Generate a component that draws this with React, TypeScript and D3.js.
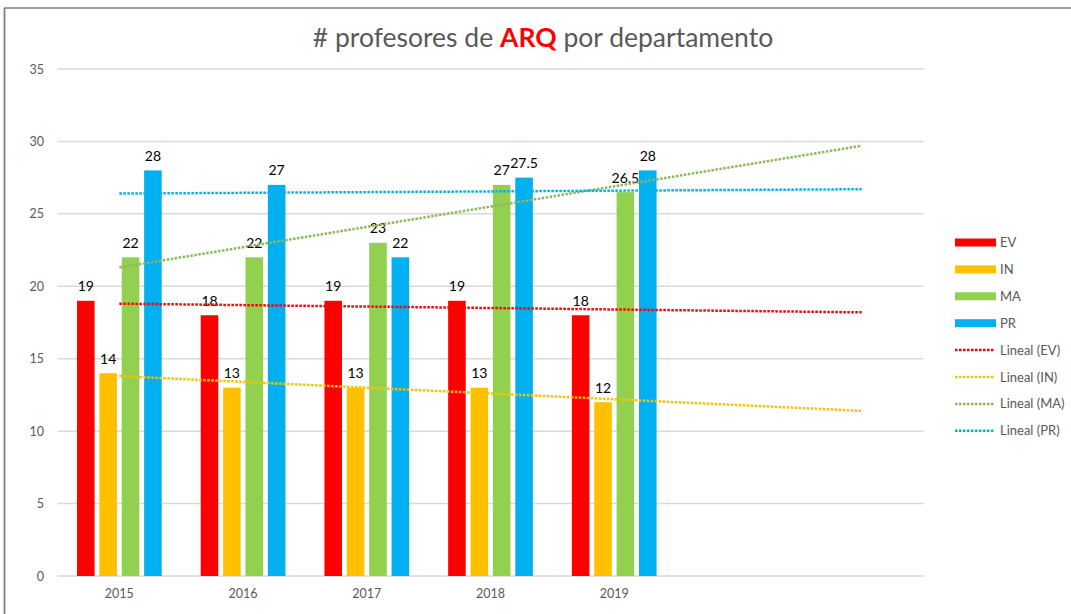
import * as d3 from "d3";

const years = ["2015", "2016", "2017", "2018", "2019"];
// two empty slots on the right where Excel extends the trendlines (forecast)
const slots = [...years, "f1", "f2"];
const seriesNames = ["EV", "IN", "MA", "PR"];
const EV = [19, 18, 19, 19, 18];
const IN = [14, 13, 13, 13, 12];
const MA = [22, 22, 23, 27, 26.5];
const PR = [28, 27, 22, 27.5, 28];
const yTicks = [0, 5, 10, 15, 20, 25, 30, 35];

const colors = ["#FF0000", "#FFC000", "#92D050", "#00B0F0"];
const trendColors = ["#FF0000", "#FFC000", "#8DB85A", "#00B0F0"];

const font = "Lato, 'Open Sans', sans-serif";

// least squares fit over x = 1..n
function linearFit(vals: number[]) {
    const xs = vals.map((_, i) => i + 1);
    const mx = d3.mean(xs) as number;
    const my = d3.mean(vals) as number;
    const slope = d3.sum(xs, (x, i) => (x - mx) * (vals[i] - my)) / d3.sum(xs, x => (x - mx) ** 2);
    return (x: number) => my + slope * (x - mx);
}

export default function App() {
    const data = [EV, IN, MA, PR];
    const left = 57.5, right = 923.5, top = 69, bottom = 576;

    const x = d3.scaleBand().domain(slots).range([left, right]);
    const inner = d3.scaleBand().domain(seriesNames).range([-42.35, 42.35]).paddingInner(0.215);
    const y = d3.scaleLinear().domain([0, 35]).range([bottom, top]);
    const cx = (s: string) => (x(s) as number) + x.bandwidth() / 2;

    const legendRows = [
        ...seriesNames.map((n, i) => ({ label: n, color: colors[i], dotted: false })),
        ...seriesNames.map((n, i) => ({ label: "Lineal (" + n + ")", color: trendColors[i], dotted: true })),
    ];

    return (
        <svg width={1071} height={614} style={{ position: "absolute", left: 0, top: 0, background: "#fff" }}
            fontFamily={font}>
            <rect x={0} y={0} width={1071} height={614} fill="#fff" />
            <line x1={4} x2={1071} y1={8} y2={8} stroke="#404040" strokeWidth={1} />
            <line x1={4.5} x2={4.5} y1={8} y2={614} stroke="#7f7f7f" strokeWidth={1.8} />

            <text x={543} y={47} textAnchor="middle" fontSize={26.5} fill="#595959">
                # profesores de <tspan fill="#FF0000" fontWeight="bold">ARQ</tspan> por departamento
            </text>

            {yTicks.map(t => (
                <g key={t}>
                    <line x1={left} x2={right} y1={y(t)} y2={y(t)} stroke="#D9D9D9" strokeWidth={1.5} />
                    <text x={44} y={y(t) + 4.5} textAnchor="end" fontSize={12.5} fill="#595959">{t}</text>
                </g>
            ))}

            {years.map(yr => (
                <text key={yr} x={cx(yr)} y={598} textAnchor="middle" fontSize={12.5} fill="#595959">{yr}</text>
            ))}

            {data.map((vals, si) => vals.map((v, i) => {
                const bx = cx(years[i]) + (inner(seriesNames[si]) as number);
                return (
                    <g key={si + "-" + i}>
                        <rect x={bx} y={y(v)} width={inner.bandwidth()} height={y(0) - y(v)} fill={colors[si]} />
                        <text x={bx + inner.bandwidth() / 2} y={y(v) - 9.5} textAnchor="middle" fontSize={14}
                            fill="#000">{v}</text>
                    </g>
                );
            }))}

            {data.map((vals, si) => {
                const f = linearFit(vals);
                return (
                    <line key={"t" + si} x1={cx(slots[0])} x2={cx(slots[slots.length - 1])}
                        y1={y(f(1))} y2={y(f(slots.length))}
                        stroke={trendColors[si]} strokeWidth={2.5} strokeDasharray="2.5 1.5" />
                );
            })}

            {legendRows.map((r, i) => {
                const ly = 242.5 + i * 26.9;
                return (
                    <g key={r.label}>
                        {r.dotted
                            ? <line x1={955} x2={994} y1={ly} y2={ly} stroke={r.color} strokeWidth={2.5} strokeDasharray="2.5 1.5" />
                            : <rect x={955} y={ly - 4} width={41} height={8} fill={r.color} />}
                        <text x={1000} y={ly + 4.5} fontSize={13} fill="#595959">{r.label}</text>
                    </g>
                );
            })}
        </svg>
    );
}
